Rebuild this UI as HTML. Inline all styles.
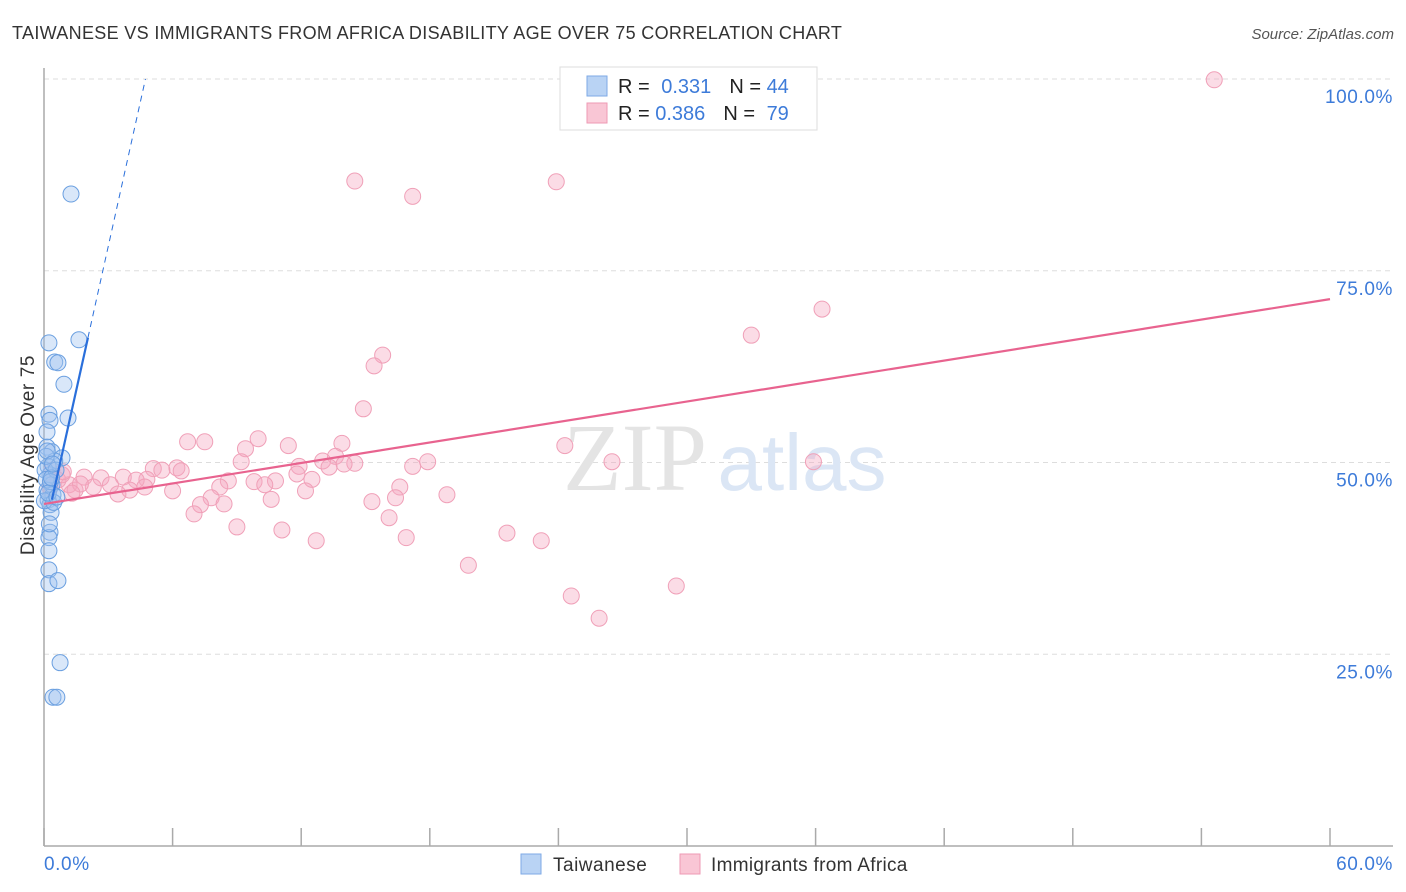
<!DOCTYPE html>
<html><head><meta charset="utf-8"><style>
body{margin:0;background:#fff;font-family:"Liberation Sans",sans-serif;}
svg{display:block}
</style></head><body>
<svg id="c" width="1406" height="892" xmlns="http://www.w3.org/2000/svg">
<text x="12" y="39" font-size="18" letter-spacing="0.33" fill="#333">TAIWANESE VS IMMIGRANTS FROM AFRICA DISABILITY AGE OVER 75 CORRELATION CHART</text>
<text x="1394" y="39" font-size="15" fill="#555" font-style="italic" text-anchor="end">Source: ZipAtlas.com</text>
<g id="grid"></g>
<text x="635" y="490" font-size="96" fill="#e4e4e4" font-family="Liberation Serif,serif" text-anchor="middle">ZIP</text>
<text x="802" y="490" font-size="80" fill="#dbe6f5" text-anchor="middle">atlas</text>
<g id="axes"></g>
<g id="pts"></g>
<g id="lines"></g>
<text transform="translate(34,455) rotate(-90)" font-size="19" letter-spacing="0.6" fill="#333" text-anchor="middle">Disability Age Over 75</text>
<g>
<rect x="560" y="67" width="257" height="63" fill="#fff" stroke="#ddd"/>
<rect x="587" y="76" width="20" height="20" fill="#b9d3f4" stroke="#7ea9e6"/>
<rect x="587" y="103" width="20" height="20" fill="#f9c6d5" stroke="#ee9ab4"/>
<text x="618" y="93" font-size="20" fill="#222">R = <tspan fill="#3d7bd9" dx="6">0.331</tspan><tspan dx="18" fill="#222">N = </tspan><tspan fill="#3d7bd9">44</tspan></text>
<text x="618" y="120" font-size="20" fill="#222">R = <tspan fill="#3d7bd9">0.386</tspan><tspan dx="18" fill="#222">N = </tspan><tspan fill="#3d7bd9" dx="6">79</tspan></text>
</g>
<g>
<rect x="521" y="854" width="20" height="20" fill="#b9d3f4" stroke="#7ea9e6"/>
<text x="553" y="871" font-size="19" letter-spacing="0.5" fill="#333">Taiwanese</text>
<rect x="680" y="854" width="20" height="20" fill="#f9c6d5" stroke="#ee9ab4"/>
<text x="711" y="871" font-size="19" letter-spacing="0.3" fill="#333">Immigrants from Africa</text>
</g>
</svg>
<script>
const yTicks=[25,50,75,100];
const yTickLabels=["25.0%","50.0%","75.0%","100.0%"];
const xTicks=[0,6,12,18,24,30,36,42,48,54,60];
const blueX=[1.26,1.63,0.23,0.5,0.65,0.93,1.12,0.23,0.28,0.14,0.14,0.37,0.84,0.5,0.19,0.28,0.37,0.14,0.42,0.19,0.28,0.33,0.28,0.23,0.23,0.23,0.23,0.65,0.75,0.42,0.6,0.05,0.1,0.56,0.02,0.3,0.45,0.1,0.2,0.35,0.6,0.15,0.4,0.25];
const blueY=[85.0,66.0,65.6,63.1,63.0,60.2,55.8,56.3,55.5,54.0,52.0,51.4,50.6,50.2,49.5,48.4,47.1,46.4,45.8,45.1,44.5,43.5,40.9,40.2,38.5,36.0,34.2,34.6,23.9,19.4,19.4,49.0,47.8,49.0,45.0,47.5,44.8,50.8,46.0,48.0,45.5,51.5,49.8,42.0];
const pinkX=[54.6,14.5,17.2,23.9,36.3,33.0,15.8,15.4,14.9,9.99,6.7,7.5,11.4,13.9,24.3,9.4,13.6,9.2,13.0,14.5,14.0,17.9,17.2,26.5,35.9,11.9,13.3,6.2,6.4,5.1,5.5,11.8,12.5,4.8,3.7,2.66,1.87,4.3,8.6,9.8,10.8,10.3,8.2,3.1,2.3,1.17,0.65,1.45,4.0,4.7,16.6,6.0,3.45,12.2,18.8,16.4,7.8,10.6,8.4,7.3,15.3,7.0,16.1,9.0,11.1,21.6,16.9,12.7,23.2,19.8,29.5,24.6,25.9,0.37,0.84,0.28,1.7,0.9,1.3];
const pinkY=[99.9,86.7,84.7,86.6,70.0,66.6,64.0,62.6,57.0,53.1,52.7,52.7,52.2,52.5,52.2,51.8,50.8,50.1,50.2,49.9,49.8,50.1,49.5,50.1,50.1,49.5,49.4,49.3,48.9,49.2,49.0,48.5,47.8,47.8,48.1,48.0,48.1,47.7,47.6,47.5,47.6,47.1,46.8,47.1,46.8,47.1,47.7,46.4,46.4,46.8,46.8,46.3,45.9,46.3,45.8,45.4,45.4,45.2,44.6,44.5,44.9,43.3,42.8,41.6,41.2,40.8,40.2,39.8,39.8,36.6,33.9,32.6,29.7,49.0,48.4,46.7,47.2,48.8,46.0];
const blueTrend=[40.5,12.57];
const pinkTrend=[44.6,71.3];
const NS="http://www.w3.org/2000/svg";
const X=v=>44+v/60*1286, Y=v=>846-v/100*767;
function mk(t,a,p){const e=document.createElementNS(NS,t);for(const k in a)e.setAttribute(k,a[k]);p.appendChild(e);return e;}
const grid=document.getElementById('grid'),axes=document.getElementById('axes'),pts=document.getElementById('pts'),lines=document.getElementById('lines');
yTicks.forEach((t,i)=>{
 const l=mk('line',{x1:44,x2:1393,y1:Y(t),y2:Y(t),stroke:'#ddd','stroke-dasharray':'5,4'},grid);
 
 
 const tx=mk('text',{x:1393,y:Y(t)+24,'font-size':19,'letter-spacing':0.6,fill:'#3d7bd9','text-anchor':'end'},axes);
 tx.textContent=yTickLabels[i];
 
 
});
const ya=mk('line',{x1:44,x2:44,y1:68,y2:846,stroke:'#aaa','stroke-width':1.5},axes);


const xa=mk('line',{x1:44,x2:1393,y1:846,y2:846,stroke:'#aaa','stroke-width':1.5},axes);


xTicks.forEach(t=>{
 const l=mk('line',{x1:X(t),x2:X(t),y1:828,y2:846,stroke:'#aaa','stroke-width':1.5},axes);
 
 
});
[[0,'0.0%',44,'start'],[60,'60.0%',1393,'end']].forEach(a=>{
 const tx=mk('text',{x:a[2],y:870,'font-size':19,'letter-spacing':0.6,fill:'#3d7bd9','text-anchor':a[3]},axes);
 tx.textContent=a[1];
 
 
});
pinkX.forEach((v,i)=>{
 const c=mk('circle',{cx:X(v),cy:Y(pinkY[i]),r:8,fill:'rgba(246,168,192,0.4)',stroke:'#f0a0b8','stroke-width':1},pts);
 
 
});
blueX.forEach((v,i)=>{
 const c=mk('circle',{cx:X(v),cy:Y(blueY[i]),r:8,fill:'rgba(160,196,240,0.4)',stroke:'#6a9fe0','stroke-width':1},pts);
 
 
});
const pl=mk('line',{x1:X(0),y1:Y(pinkTrend[0]),x2:X(60),y2:Y(pinkTrend[1]),stroke:'#e8638f','stroke-width':2.2},lines);


const bx0=0.37,bx1=2.05,bx2=(100-blueTrend[0])/blueTrend[1];
const bl=mk('line',{x1:X(bx0),y1:Y(blueTrend[0]+blueTrend[1]*bx0),x2:X(bx1),y2:Y(blueTrend[0]+blueTrend[1]*bx1),stroke:'#2a6fdb','stroke-width':2.2},lines);


const bd=mk('line',{x1:X(bx1),y1:Y(blueTrend[0]+blueTrend[1]*bx1),x2:X(bx2),y2:Y(100),stroke:'#2a6fdb','stroke-width':1,'stroke-dasharray':'6,5'},lines);


</script>
</body></html>
